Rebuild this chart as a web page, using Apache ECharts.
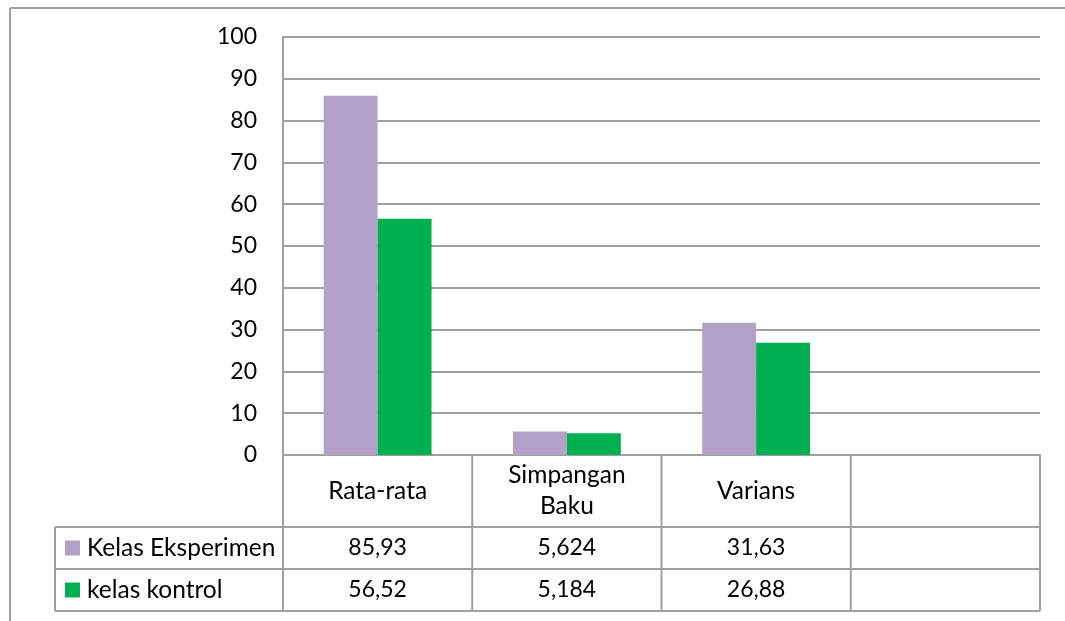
<!DOCTYPE html>
<html>
<head>
<meta charset="utf-8">
<script src="https://cdn.jsdelivr.net/npm/echarts@6/dist/echarts.min.js"></script>
<style>
  html, body { margin: 0; padding: 0; background: #fff; }
  #chart { width: 1065px; height: 621px; }
</style>
</head>
<body>
<div id="chart"></div>
<script>
// Statistik hasil belajar: kelas eksperimen vs kelas kontrol
const categories = ['Rata-rata', 'Simpangan\nBaku', 'Varians', ''];
const seriesNames = ['Kelas Eksperimen', 'kelas kontrol'];
const eksperimen = [85.93, 5.624, 31.63, null];
const kontrol = [56.52, 5.184, 26.88, null];
const yTicks = { min: 0, max: 100, interval: 10 };

const colors = ['#B3A2C7', '#00B050'];
const lineColor = '#a0a0a0';
const fontFamily = 'Lato, "Open Sans", sans-serif';
const numSize = 23;   // digits
const wordSize = 24.5; // words

// decimal comma, as in the data table
const fmt = v => (v == null ? '' : String(v).replace('.', ','));

const chart = echarts.init(document.getElementById('chart'), null, { renderer: 'canvas' });

const option = {
  animation: false,
  backgroundColor: '#fff',
  textStyle: { fontFamily: fontFamily },
  grid: { left: 283, right: 25, top: 37, bottom: 166 },
  xAxis: {
    type: 'category',
    data: categories,
    axisLine: { show: true, lineStyle: { color: lineColor, width: 2 } },
    axisTick: { show: false },
    axisLabel: {
      margin: 36,
      verticalAlign: 'middle',
      color: '#000',
      fontSize: wordSize,
      fontFamily: fontFamily,
      lineHeight: 31,
      interval: 0
    }
  },
  yAxis: {
    type: 'value',
    min: yTicks.min,
    max: yTicks.max,
    interval: yTicks.interval,
    axisLine: { show: true, lineStyle: { color: lineColor, width: 2 } },
    axisTick: { show: false },
    axisLabel: { color: '#000', fontSize: numSize, fontFamily: fontFamily, margin: 26 },
    splitLine: { lineStyle: { color: lineColor, width: 2 } }
  },
  series: [
    {
      name: seriesNames[0], type: 'bar', data: eksperimen,
      itemStyle: { color: colors[0] },
      barGap: '0%', barCategoryGap: '43%'
    },
    {
      name: seriesNames[1], type: 'bar', data: kontrol,
      itemStyle: { color: colors[1] },
      barGap: '0%', barCategoryGap: '43%'
    }
  ]
};
chart.setOption(option);

// Data table under the plot, aligned on the category bands
function buildTable() {
  const c0 = chart.convertToPixel({ gridIndex: 0 }, [0, 0]);
  const c1 = chart.convertToPixel({ gridIndex: 0 }, [1, 0]);
  const band = c1[0] - c0[0];
  const baseY = c0[1];
  const left = c0[0] - band / 2;
  const right = left + band * categories.length;
  const keyLeft = 55;
  const headerH = 72;
  const rowH = 42;
  const row1Top = baseY + headerH;
  const row2Top = row1Top + rowH;
  const tableBottom = row2Top + rowH;
  const ls = { stroke: lineColor, lineWidth: 2 };
  const els = [];

  // horizontal rules
  [row1Top, row2Top, tableBottom].forEach(y => {
    els.push({ type: 'line', shape: { x1: keyLeft, y1: y, x2: right, y2: y }, style: ls, silent: true });
  });
  // vertical rules
  for (let i = 0; i <= categories.length; i++) {
    const x = left + band * i;
    els.push({ type: 'line', shape: { x1: x, y1: baseY, x2: x, y2: tableBottom }, style: ls, silent: true });
  }
  els.push({ type: 'line', shape: { x1: keyLeft, y1: row1Top, x2: keyLeft, y2: tableBottom }, style: ls, silent: true });

  // legend keys and series names
  const rows = [eksperimen, kontrol];
  rows.forEach((vals, r) => {
    const cy = row1Top + rowH * r + rowH / 2;
    els.push({ type: 'rect', shape: { x: 65, y: cy - 7.5, width: 15, height: 15 }, style: { fill: colors[r] }, silent: true });
    els.push({
      type: 'text', x: 87, y: cy,
      style: { text: seriesNames[r], fill: '#000', font: wordSize + 'px ' + fontFamily, verticalAlign: 'middle', align: 'left' },
      silent: true
    });
    vals.forEach((v, i) => {
      const cx = chart.convertToPixel({ gridIndex: 0 }, [i, 0])[0];
      els.push({
        type: 'text', x: cx, y: cy,
        style: { text: fmt(v), fill: '#000', font: numSize + 'px ' + fontFamily, align: 'center', verticalAlign: 'middle' },
        silent: true
      });
    });
  });

  // chart area frame (top and left edges)
  els.push({ type: 'line', shape: { x1: 10, y1: 8, x2: 1065, y2: 8 }, style: ls, silent: true });
  els.push({ type: 'line', shape: { x1: 10, y1: 8, x2: 10, y2: 621 }, style: ls, silent: true });

  chart.setOption({ graphic: { elements: els } });
}
buildTable();
</script>
</body>
</html>
